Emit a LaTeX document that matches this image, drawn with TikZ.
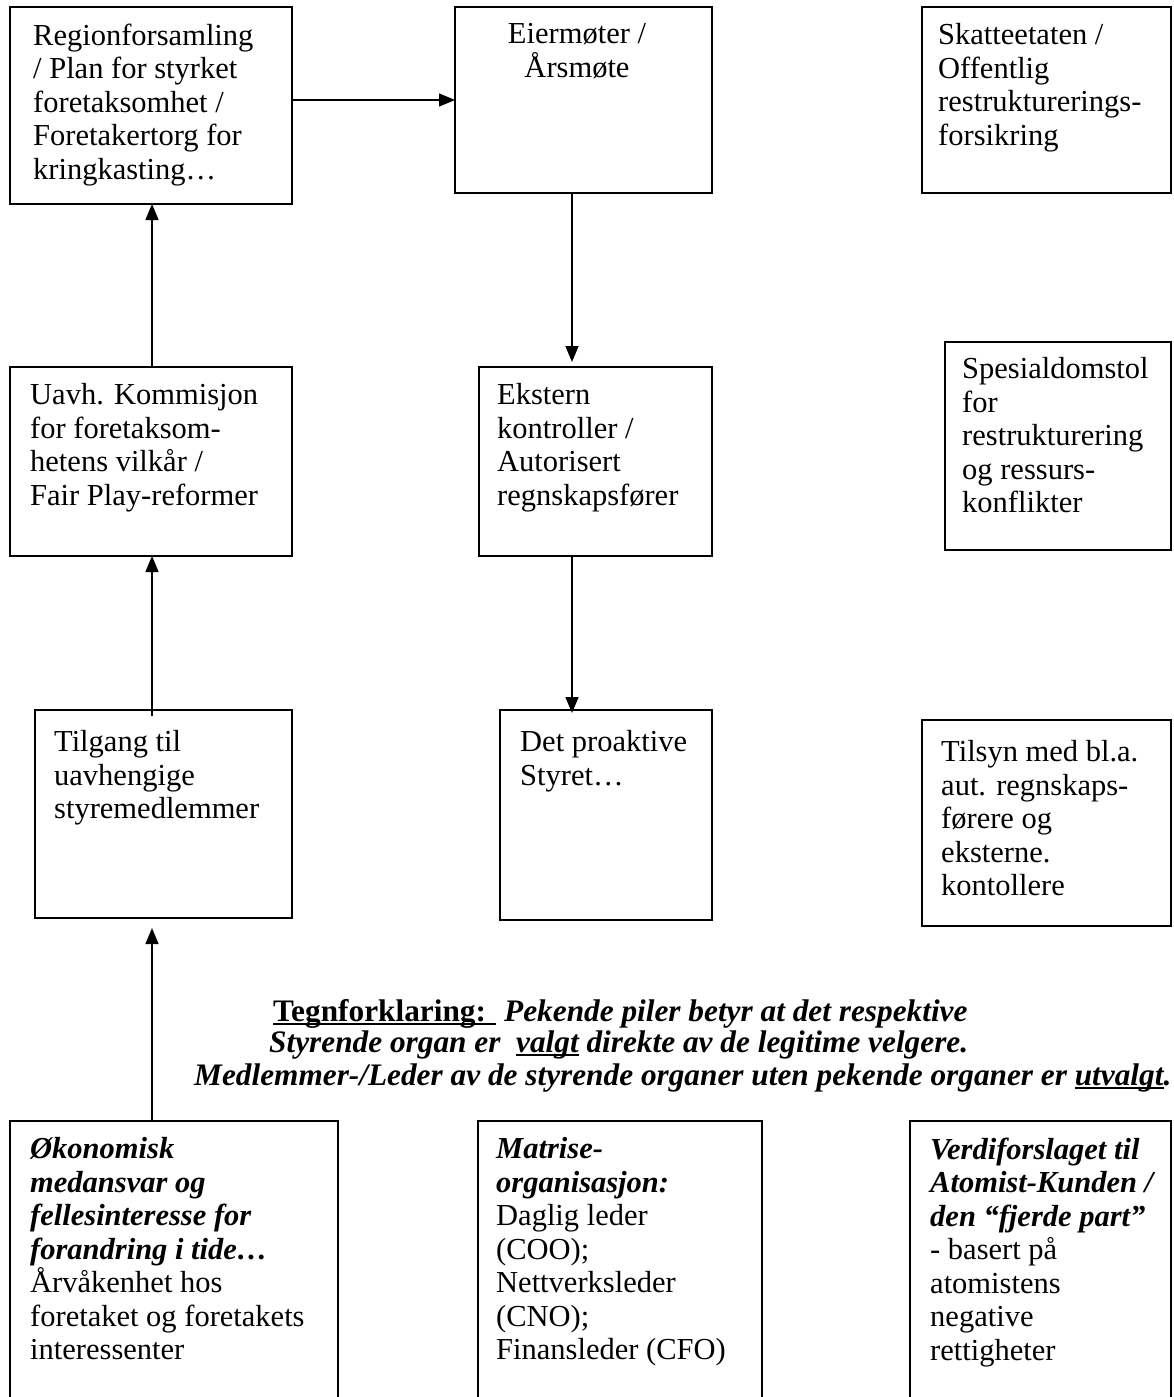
\documentclass[tikz,border=0pt]{standalone}
\usepackage{fontspec}
\setmainfont{Liberation Serif}
\usetikzlibrary{arrows.meta}
\newcommand\fs{\fontsize{30.5pt}{33.5pt}\selectfont}
\newcommand\lfs{\fontsize{31.3pt}{33.5pt}\selectfont}
\newcommand\bic[1]{\textbf{\textit{#1}}}
\newcommand\myul[1]{\setbox0=\hbox{#1}\rlap{\rule[-4pt]{\wd0}{2.2pt}}\box0\relax}
\tikzset{
  box/.style={draw, line width=1.5pt, anchor=north west, inner sep=0pt, outer sep=0pt},
  txt/.style={font=\fs, align=left, anchor=north west, inner sep=0pt, yshift=23.45pt, execute at begin node=\strut},
  arr/.style={-{Triangle[length=16pt,width=13pt]}, line width=1.5pt},
  leg/.style={font=\lfs, anchor=base west, inner sep=0pt},
}
\begin{document}
\begin{tikzpicture}[x=1pt,y=-1pt]
\useasboundingbox (0,0) rectangle (1173,1397);
% boxes
\node[box, minimum width=282pt, minimum height=197pt] (reg) at (10,7) {};
\node[box, minimum width=257pt, minimum height=186pt] (eier) at (455,7) {};
\node[box, minimum width=249pt, minimum height=186pt] (skat) at (922,7) {};
\node[box, minimum width=282pt, minimum height=189pt] (uavh) at (10,367) {};
\node[box, minimum width=233pt, minimum height=189pt] (ekst) at (479,367) {};
\node[box, minimum width=226pt, minimum height=208pt] (spes) at (945,342) {};
\node[box, minimum width=257pt, minimum height=208pt] (tilg) at (35,710) {};
\node[box, minimum width=212pt, minimum height=210pt] (pro) at (500,710) {};
\node[box, minimum width=249pt, minimum height=206pt] (tils) at (922,720) {};
\node[box, minimum width=328pt, minimum height=290pt] (okon) at (10,1121) {};
\node[box, minimum width=284pt, minimum height=290pt] (matr) at (478,1121) {};
\node[box, minimum width=261pt, minimum height=290pt] (verd) at (910,1121) {};
% texts
\node[txt] (reg-t) at (33,47) {Regionforsamling\\/ Plan for styrket\\foretaksomhet /\\Foretakertorg for\\kringkasting…};
\node[txt, align=center, anchor=north] (eier-t) at (577,47) {Eiermøter /\\Årsmøte};
\node[txt] (skat-t) at (938,47) {Skatteetaten /\\Offentlig\\restrukturerings-\\forsikring};
\node[txt] (uavh-t) at (30,407) {Uavh. Kommisjon\\for foretaksom-\\hetens vilkår /\\Fair Play-reformer};
\node[txt] (ekst-t) at (497,407) {Ekstern\\kontroller /\\Autorisert\\regnskapsfører};
\node[txt] (spes-t) at (962,381) {Spesialdomstol\\for\\restrukturering\\og ressurs-\\konflikter};
\node[txt] (tilg-t) at (54,754) {Tilgang til\\uavhengige\\styremedlemmer};
\node[txt] (pro-t) at (520,754) {Det proaktive\\Styret…};
\node[txt] (tils-t) at (941,764) {Tilsyn med bl.a.\\aut. regnskaps-\\førere og\\eksterne.\\kontollere};
\node[txt] (okon-t) at (30,1161) {\bic{Økonomisk}\\\bic{medansvar og}\\\bic{fellesinteresse for}\\\bic{forandring i tide…}\\Årvåkenhet hos\\foretaket og foretakets\\interessenter};
\node[txt] (matr-t) at (496,1161) {\bic{Matrise-}\\\bic{organisasjon:}\\Daglig leder\\(COO);\\Nettverksleder\\(CNO);\\Finansleder (CFO)};
\node[txt] (verd-t) at (930,1161) {\bic{Verdiforslaget til}\\\bic{Atomist-Kunden /}\\\bic{den “fjerde part”}\\- basert på\\atomistens\\negative\\rettigheter};
% legend
\node[leg] (leg1) at (273,1021) {\myul{\textbf{Tegnforklaring: }} \bic{Pekende piler betyr at det respektive}};
\node[leg] (leg2) at (269,1052) {\bic{Styrende organ er \ \myul{valgt} direkte av de legitime velgere.}};
\node[leg] (leg3) at (194,1085) {\bic{Medlemmer-/Leder av de styrende organer uten pekende organer er \myul{utvalgt}.}};
% connectors
\draw[arr] (reg.east |- 0,100) -- (eier.west |- 0,100);
\draw[arr, shorten >=5pt] (eier.south -| 572,0) -- (ekst.north -| 572,0);
\draw[arr, shorten >=-3pt] (ekst.south -| 572,0) -- (pro.north -| 572,0);
\draw[arr] (uavh.north -| 152,0) -- (reg.south -| 152,0);
\draw[arr] ([yshift=-6pt]tilg.north -| 152,0) -- (uavh.south -| 152,0);
\draw[arr, shorten >=10pt] (okon.north -| 152,0) -- (tilg.south -| 152,0);
\end{tikzpicture}
\end{document}
